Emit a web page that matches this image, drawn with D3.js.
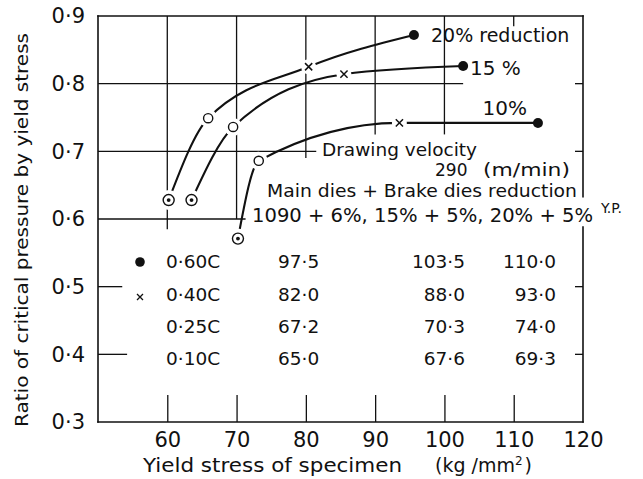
<!DOCTYPE html>
<html><head><meta charset="utf-8">
<script src="https://cdn.jsdelivr.net/npm/d3@7"></script>
<style>
body{margin:0;background:#fff}
svg{display:block}
text{font-family:"DejaVu Sans",sans-serif;fill:#111}
</style>
</head><body><svg id="c" width="643" height="479"></svg>
<script>
// ---- data ----
const reductions = ["20% reduction", "15 %", "10%"];
const xTicks = [60, 70, 80, 90, 100, 110, 120];
const yTicks = [0.3, 0.4, 0.5, 0.6, 0.7, 0.8, 0.9];
// points, order of each array: 20%, 15%, 10% reduction
const x010C = [60.2, 63.5, 70.2];
const y010C = [0.628, 0.628, 0.571];
const x025C = [65.9, 69.5, 73.2];
const y025C = [0.749, 0.736, 0.686];
const x040C = [80.4, 85.5, 93.5];
const y040C = [0.825, 0.814, 0.742];
const x060C = [95.6, 102.7, 113.5];
const y060C = [0.872, 0.826, 0.742];
// inset table
const tableSteels = ["0.60C", "0.40C", "0.25C", "0.10C"];
const tableCol1 = ["97.5", "82.0", "67.2", "65.0"];
const tableCol2 = ["103.5", "88.0", "70.3", "67.6"];
const tableCol3 = ["110.0", "93.0", "74.0", "69.3"];

// ---- scales ----
const svg = d3.select("#c");
const x = d3.scaleLinear().domain([50, 120]).range([98, 583]);
const y = d3.scaleLinear().domain([0.3, 0.9]).range([422, 16]);

// British decimal point
const dec = s => s.replace(".", "\u00B7");

const ink = "#111";
const g = svg.append("g");

// ---- partial grid lines ----
const vGrid = [[60, 0.585], [70, 0.60], [80, 0.69], [90, 0.725], [100, 0.725], [110, 0.885]];
vGrid.forEach(([v, lo]) => {
  g.append("line").attr("x1", x(v)).attr("x2", x(v)).attr("y1", y(0.9)).attr("y2", y(lo))
    .attr("stroke", ink).attr("stroke-width", 1.3);
});
const hGrid = [[0.8, 102.7], [0.7, 81.5], [0.6, 71.3], [0.5, 53.5], [0.4, 54.2]];
hGrid.forEach(([v, hi]) => {
  g.append("line").attr("x1", x(50)).attr("x2", x(hi)).attr("y1", y(v)).attr("y2", y(v))
    .attr("stroke", ink).attr("stroke-width", 1.3);
});
[0.8, 0.7, 0.5, 0.4].forEach(v => {
  g.append("line").attr("x1", x(120) - 8).attr("x2", x(120)).attr("y1", y(v)).attr("y2", y(v))
    .attr("stroke", ink).attr("stroke-width", 1.3);
});

// ---- frame ----
const fr = [
  [50, 0.9, 50, 0.3], [50, 0.3, 120, 0.3], [50, 0.9, 120, 0.9],
  [120, 0.9, 120, 0.633], [120, 0.588, 120, 0.3]
];
fr.forEach(([a, b, c, d]) => {
  g.append("line").attr("x1", x(a)).attr("y1", y(b)).attr("x2", x(c)).attr("y2", y(d))
    .attr("stroke", ink).attr("stroke-width", 1.6).attr("stroke-linecap", "square");
});

// ---- axes ----
const xAxis = svg.append("g").attr("transform", `translate(0,${y(0.3)})`)
  .call(d3.axisBottom(x).tickValues(xTicks).tickSizeInner(-27).tickSizeOuter(0).tickPadding(10).tickFormat(d3.format("d")));
xAxis.select(".domain").remove();
xAxis.selectAll(".tick line").attr("stroke", ink).attr("stroke-width", 1.3)
  .filter(d => d === 120).remove();
xAxis.selectAll("text").attr("font-family", "DejaVu Sans").attr("font-size", 21).attr("fill", ink);

const yAxis = svg.append("g").attr("transform", `translate(${x(50)},0)`)
  .call(d3.axisLeft(y).tickValues(yTicks).tickSize(0).tickPadding(13).tickFormat(d => dec(d.toFixed(1))));
yAxis.select(".domain").remove();
yAxis.selectAll("text").attr("font-family", "DejaVu Sans").attr("font-size", 21).attr("fill", ink);

// ---- axis titles ----
svg.append("text").attr("transform", `translate(28,230) rotate(-90)`)
  .attr("text-anchor", "middle").attr("font-size", 18)
  .attr("textLength", 394).attr("lengthAdjust", "spacingAndGlyphs")
  .text("Ratio of critical pressure by yield stress");
svg.append("text").attr("x", 143).attr("y", 472).attr("font-size", 19.5)
  .attr("textLength", 259).attr("lengthAdjust", "spacingAndGlyphs")
  .text("Yield stress of specimen");
const unit = svg.append("text").attr("x", 435).attr("y", 472).attr("font-size", 19);
unit.append("tspan").text("(kg /mm");
unit.append("tspan").attr("dy", -7).attr("font-size", 12).text("2");
unit.append("tspan").attr("dy", 7).attr("dx", 2).text(")");

// ---- curves ----
const lineGen = d3.line().x(d => x(d[0])).y(d => y(d[1])).curve(d3.curveMonotoneX);
reductions.forEach((r, i) => {
  const pts = [[x010C[i], y010C[i]], [x025C[i], y025C[i]], [x040C[i], y040C[i]], [x060C[i], y060C[i]]];
  svg.append("path").attr("d", lineGen(pts)).attr("fill", "none")
    .attr("stroke", ink).attr("stroke-width", 2.1);
});

// halos that open gaps in the curves around open markers
const halo = svg.append("g").attr("fill", "#fff");
reductions.forEach((r, i) => {
  halo.append("circle").attr("cx", x(x010C[i])).attr("cy", y(y010C[i])).attr("r", 10);
  halo.append("circle").attr("cx", x(x025C[i])).attr("cy", y(y025C[i])).attr("r", 9);
  halo.append("circle").attr("cx", x(x040C[i])).attr("cy", y(y040C[i])).attr("r", 7.5);
});

// ---- markers ----
const mk = svg.append("g");
function cross(cx, cy, s, w) {
  mk.append("path").attr("d", `M${cx - s},${cy - s}L${cx + s},${cy + s}M${cx - s},${cy + s}L${cx + s},${cy - s}`)
    .attr("stroke", ink).attr("stroke-width", w).attr("fill", "none");
}
reductions.forEach((r, i) => {
  mk.append("circle").attr("cx", x(x010C[i])).attr("cy", y(y010C[i])).attr("r", 5.5)
    .attr("fill", "#fff").attr("stroke", ink).attr("stroke-width", 1.4);
  mk.append("circle").attr("cx", x(x010C[i])).attr("cy", y(y010C[i])).attr("r", 1.9).attr("fill", ink);
  mk.append("circle").attr("cx", x(x025C[i])).attr("cy", y(y025C[i])).attr("r", 4.6)
    .attr("fill", "#fff").attr("stroke", ink).attr("stroke-width", 1.4);
  cross(x(x040C[i]), y(y040C[i]), 3.6, 1.5);
  mk.append("circle").attr("cx", x(x060C[i])).attr("cy", y(y060C[i])).attr("r", 5).attr("fill", ink);
});

// ---- series labels ----
svg.append("text").attr("x", 431).attr("y", 42).attr("font-size", 19).text(reductions[0]);
svg.append("text").attr("x", 470).attr("y", 75).attr("font-size", 20).text(reductions[1]);
svg.append("text").attr("x", 527).attr("y", 115).attr("font-size", 20).attr("text-anchor", "end").text(reductions[2]);

// ---- annotations ----
svg.append("text").attr("x", 322).attr("y", 156).attr("font-size", 18)
  .attr("textLength", 155).attr("lengthAdjust", "spacingAndGlyphs").text("Drawing velocity");
svg.append("text").attr("x", 435).attr("y", 176).attr("font-size", 17).text("290");
svg.append("text").attr("x", 483).attr("y", 176).attr("font-size", 17)
  .attr("textLength", 87).attr("lengthAdjust", "spacingAndGlyphs").text("(m/min)");
svg.append("text").attr("x", 267).attr("y", 197).attr("font-size", 18)
  .attr("textLength", 310).attr("lengthAdjust", "spacingAndGlyphs").text("Main dies + Brake dies reduction");
svg.append("text").attr("x", 252).attr("y", 222).attr("font-size", 20)
  .attr("textLength", 341).attr("lengthAdjust", "spacingAndGlyphs").text("1090 + 6%, 15% + 5%, 20% + 5%");
svg.append("text").attr("x", 601).attr("y", 213).attr("font-size", 14).text("Y.P.");

// ---- inset table ----
const rowY = [268, 301, 333, 365];
const tb = svg.append("g").attr("font-size", 18.5);
tableSteels.forEach((s, i) => {
  tb.append("text").attr("x", 166).attr("y", rowY[i]).text(dec(s));
  tb.append("text").attr("x", 278).attr("y", rowY[i]).text(dec(tableCol1[i]));
  tb.append("text").attr("x", 465).attr("y", rowY[i]).attr("text-anchor", "end").text(dec(tableCol2[i]));
  tb.append("text").attr("x", 556).attr("y", rowY[i]).attr("text-anchor", "end").text(dec(tableCol3[i]));
});
mk.append("circle").attr("cx", 140).attr("cy", 262).attr("r", 4.8).attr("fill", ink);
cross(140, 297, 3, 1.3);
</script>
</body></html>
